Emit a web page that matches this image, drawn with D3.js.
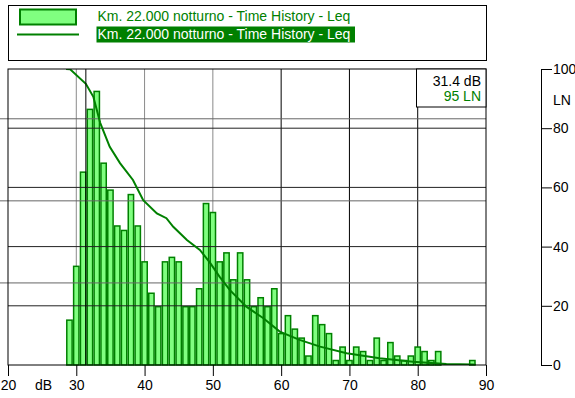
<!DOCTYPE html>
<html>
<head>
<meta charset="utf-8">
<script src="https://cdn.jsdelivr.net/npm/d3@7/dist/d3.min.js"></script>
<style>
body{margin:0;background:#fff;}
svg{display:block;font-family:"Liberation Sans",Arial,sans-serif;}
</style>
</head>
<body>
<svg id="chart" width="575" height="398"></svg>
<script>
// histogram: 1 dB bins (centre level) and number of samples in each
const binLevels = [29,30,31,32,33,34,35,36,37,38,39,40,41,42,43,44,45,46,47,48,
	49,50,51,52,53,54,55,56,57,58,59,60,61,62,63,64,65,66,67,68,
	69,70,71,72,73,74,75,76,77,78,79,80,81,82,83,84,85,86,87,88];
const binCounts = [10,22,43,57,61,45,39,31,30,38,31,23,16,13,23,24,23,13,13,17,
	36,34,23,25,19,25,19,13,15,13,17,7,11,8,6,2,11,9,7,1,
	4,1,4,3,1,6,1,5,2,1,2,4,3,1,3,0,0,0,0,1];

// cumulative distribution LN (percent of time the level is exceeded)
const lnLevels = [28.5,29.1,31.4,32.5,33.5,34.9,36.4,38.3,39.8,41.8,43.2,44.2,46.2,48.1,
	49.6,51.0,52.5,54.9,57.4,59.8,62.7,65.7,69.6,74.4,79.3,84.2,88.1,88.5];
const lnValues = [100,99.9,95,90.6,81.8,73.7,68.2,62.5,55.7,51.2,49.6,46.7,42.2,38.9,
	34.5,29.8,25.3,19.7,15.8,11.3,8.5,6.2,4.0,2.3,1.1,0.3,0.2,0];

const levelTicks = [20,30,40,50,60,70,80,90];
const lnTicks = [0,20,40,60,80,100];
const percentTicks = [2,4,6];
const cursorLevel = 31.4;
const cursorLN = 95;
const seriesLabel = "Km. 22.000 notturno - Time History - Leq";

const green = "#008000",
	lightGreen = "#80ff80";

drawChart();

function drawChart(){
	var svg = d3.select("#chart"),
		plot = {left: 8, top: 69, right: 486, bottom: 365},
		total = d3.sum(binCounts),
		xScale = d3.scaleLinear().domain([20, 90]).range([plot.left, plot.right]),
		yPercent = d3.scaleLinear().domain([0, 66 / 915 * 100]).range([plot.bottom, plot.top]),
		yLN = d3.scaleLinear().domain([0, 100]).range([plot.bottom, plot.top]),
		bins = binLevels.map(function(l, i){ return {level: l, count: binCounts[i]}; })
			.filter(function(d){ return d.count > 0; }),
		curve = lnLevels.map(function(l, i){ return {level: l, ln: lnValues[i]}; });

	svg.append("defs").append("clipPath").attr("id", "plotClip")
		.append("rect")
		.attr("x", plot.left).attr("y", plot.top)
		.attr("width", plot.right - plot.left).attr("height", plot.bottom - plot.top);

	drawVerticalGrid();
	drawBars();
	drawHorizontalGrid();
	drawCurve();
	drawFrame();
	drawBottomAxis();
	drawRightAxis();
	drawCursor();
	drawLegend();

	function drawVerticalGrid(){
		svg.append("g").attr("class", "vgrid")
			.selectAll("line")
			.data(levelTicks.slice(1, -1))
			.enter().append("line")
			.attr("x1", function(d){ return xScale(d); })
			.attr("x2", function(d){ return xScale(d); })
			.attr("y1", plot.top).attr("y2", plot.bottom)
			.attr("stroke", function(d){ return d < 55 ? "#8a8a8a" : "#000"; });
	}

	function drawBars(){
		var binWidth = xScale(1) - xScale(0);
		svg.append("g").attr("class", "bars")
			.selectAll("rect")
			.data(bins)
			.enter().append("rect")
			.attr("x", function(d){ return xScale(d.level - 0.5) + 0.75; })
			.attr("width", binWidth - 1.5)
			.attr("y", function(d){ return yPercent(d.count / total * 100); })
			.attr("height", function(d){ return plot.bottom - yPercent(d.count / total * 100); })
			.attr("fill", lightGreen)
			.attr("stroke", green)
			.attr("stroke-width", 1.5);
	}

	function drawHorizontalGrid(){
		// percent grid of the (hidden) left axis, ticks poke out left of the frame
		svg.append("g").attr("class", "pgrid")
			.selectAll("line")
			.data(percentTicks)
			.enter().append("line")
			.attr("x1", 0).attr("x2", plot.right)
			.attr("y1", function(d){ return yPercent(d); })
			.attr("y2", function(d){ return yPercent(d); })
			.attr("stroke", "#666");
		svg.append("g").attr("class", "lngrid")
			.selectAll("line")
			.data(lnTicks.slice(1, -1))
			.enter().append("line")
			.attr("x1", plot.left).attr("x2", plot.right)
			.attr("y1", function(d){ return yLN(d); })
			.attr("y2", function(d){ return yLN(d); })
			.attr("stroke", "#222");
	}

	function drawCurve(){
		var line = d3.line()
			.x(function(d){ return xScale(d.level); })
			.y(function(d){ return yLN(d.ln); });
		svg.append("path")
			.datum(curve)
			.attr("clip-path", "url(#plotClip)")
			.attr("d", line)
			.attr("fill", "none")
			.attr("stroke", green)
			.attr("stroke-width", 2);
	}

	function drawFrame(){
		svg.append("rect")
			.attr("x", plot.left).attr("y", plot.top)
			.attr("width", plot.right - plot.left).attr("height", plot.bottom - plot.top)
			.attr("fill", "none").attr("stroke", "#000");
	}

	function drawBottomAxis(){
		var axis = svg.append("g").attr("class", "xAxis")
			.attr("transform", "translate(0," + plot.bottom + ")")
			.call(d3.axisBottom(xScale).tickValues(levelTicks).tickSize(11).tickPadding(4).tickSizeOuter(0));
		axis.select(".domain").remove();
		axis.selectAll("text").attr("font-size", 14).attr("font-family", null).attr("fill", "#000");
		axis.append("text")
			.attr("x", xScale(25.2)).attr("y", 15).attr("dy", "0.71em")
			.attr("text-anchor", "middle").attr("font-size", 14).attr("fill", "#000")
			.text("dB");
	}

	function drawRightAxis(){
		var axis = svg.append("g").attr("class", "lnAxis")
			.attr("transform", "translate(541,0)")
			.call(d3.axisRight(yLN).tickValues(lnTicks).tickSize(11).tickPadding(1).tickSizeOuter(0));
		axis.selectAll("text").attr("font-size", 14).attr("font-family", null).attr("fill", "#000");
		axis.append("text")
			.attr("x", 12).attr("y", yLN(89.5)).attr("dy", "0.32em")
			.attr("font-size", 14).attr("fill", "#000")
			.text("LN");
	}

	function drawCursor(){
		svg.append("line")
			.attr("x1", xScale(cursorLevel)).attr("x2", xScale(cursorLevel))
			.attr("y1", plot.top).attr("y2", plot.bottom)
			.attr("stroke", "#000");
		var box = svg.append("g").attr("class", "cursorBox");
		box.append("rect")
			.attr("x", 416.5).attr("y", plot.top)
			.attr("width", plot.right - 416.5).attr("height", 38)
			.attr("fill", "#fff").attr("stroke", "#000");
		box.append("text")
			.attr("x", 481).attr("y", 86).attr("text-anchor", "end")
			.attr("font-size", 14).attr("fill", "#000")
			.text(cursorLevel.toFixed(1) + " dB");
		box.append("text")
			.attr("x", 481).attr("y", 100.5).attr("text-anchor", "end")
			.attr("font-size", 14).attr("fill", green)
			.text(cursorLN + " LN");
	}

	function drawLegend(){
		var legend = svg.append("g").attr("class", "legend");
		legend.append("rect")
			.attr("x", plot.left + 0.5).attr("y", 5.5)
			.attr("width", plot.right - plot.left).attr("height", 55)
			.attr("fill", "#fff").attr("stroke", "#000");
		legend.append("rect")
			.attr("x", 20).attr("y", 9.5).attr("width", 56).attr("height", 15)
			.attr("fill", lightGreen).attr("stroke", green).attr("stroke-width", 2);
		legend.append("line")
			.attr("x1", 17).attr("x2", 79).attr("y1", 34.5).attr("y2", 34.5)
			.attr("stroke", green).attr("stroke-width", 2);
		legend.append("text")
			.attr("x", 97.5).attr("y", 20.5)
			.attr("font-size", 14).attr("fill", green)
			.text(seriesLabel);
		legend.append("rect")
			.attr("x", 96.5).attr("y", 26.5).attr("width", 258.5).attr("height", 16)
			.attr("fill", green);
		legend.append("text")
			.attr("x", 97.5).attr("y", 39)
			.attr("font-size", 14).attr("fill", "#fff")
			.text(seriesLabel);
	}
}
</script>
</body>
</html>
